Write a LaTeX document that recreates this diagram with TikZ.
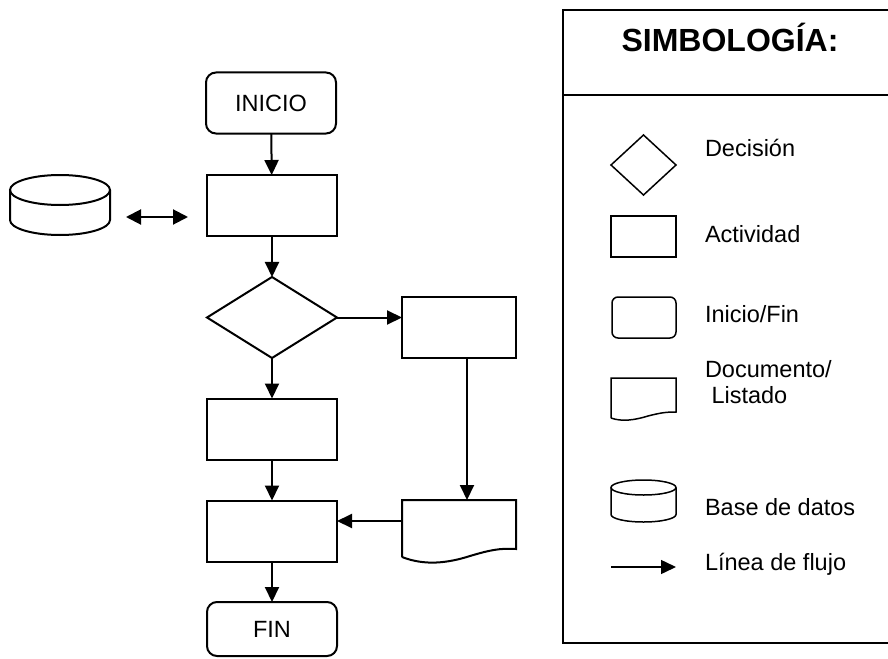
\documentclass[tikz,border=0pt]{standalone}
\usepackage{fontspec}
\setmainfont{Liberation Sans}
\usetikzlibrary{arrows.meta,shapes.geometric,calc}
\begin{document}
\begin{tikzpicture}[x=1pt,y=-1pt,
  every node/.style={font=\fontsize{23.5}{26}\selectfont, inner sep=0pt, outer sep=0pt},
  shp/.style={draw, line width=2pt, fill=white},
  boxn/.style={shp, rectangle, minimum width=130pt, minimum height=61pt},
  term/.style={boxn, rounded corners=10pt},
  ghost/.style={rectangle, draw=none},
  flow/.style={line width=2pt, -{Triangle[length=15pt,width=14pt]}},
  lgs/.style={draw, line width=1.5pt, fill=white},
  lbl/.style={anchor=base west},
]
\useasboundingbox (0,0) rectangle (888,658);

% ---------- main flow ----------
\node[term] (ini) at (271,103) {INICIO};
\node[boxn] (b1) at (272,205.5) {};
\node[shp, diamond, minimum width=130pt, minimum height=81pt] (dec) at (272,317.5) {};
\node[boxn, minimum width=114pt] (b2) at (459,327.5) {};
\node[boxn] (b3) at (272,429) {};
\node[boxn] (b4) at (272,531) {};
\node[term, minimum height=54pt] (fin) at (272,629) {FIN};

% database (cylinder)
\node[ghost, minimum width=100pt, minimum height=60pt] (db) at (60,205) {};
\draw[line width=2pt] (10,190) -- (10,220) arc[start angle=180, end angle=0, x radius=50, y radius=15]
  -- (110,190);
\draw[line width=2pt] (60,190) ellipse[x radius=50, y radius=15];

% document
\node[ghost, minimum width=114pt, minimum height=42pt] (doc) at (459,521) {};
\draw[line width=2pt, line join=miter] (402,557) -- (402,500) -- (516,500) -- (516,549)
  .. controls (500,548) and (490,550) .. (470,556)
  .. controls (448,563) and (425,566) .. (402,557);

% connectors
\draw[flow] (ini) -- (b1);
\draw[flow] (b1) -- (dec);
\draw[flow] (dec.east) -- (dec.east -| b2.west);
\draw[flow] (dec) -- (b3);
\draw[flow] (b3) -- (b4);
\draw[flow] (b4) -- (fin);
\draw[flow] ([xshift=8pt]b2.south) -- ([xshift=8pt]doc.north);
\draw[flow] (doc.west) -- (doc.west -| b4.east);
\coordinate (da1) at (126,217);
\coordinate (da2) at (188,217);
\draw[line width=2pt, {Triangle[length=15pt,width=15pt]}-{Triangle[length=15pt,width=15pt]}] (da1) -- (da2);

% ---------- legend ----------
\draw[line width=2pt, line join=miter] (889,643) -- (563,643) -- (563,95);
\draw[line width=2.6pt, line join=miter] (889,10) -- (563,10) -- (563,95) -- (889,95);
\node[anchor=base, font=\fontsize{32}{36}\selectfont\bfseries] (title) at (730,52) {SIMBOLOGÍA:};

\node[lgs, diamond, minimum width=65pt, minimum height=60pt] (ldec) at (643.5,165) {};
\node[lbl] (tdec) at (705,156) {Decisión};

\node[lgs, rectangle, minimum width=65pt, minimum height=41pt] (lact) at (643.5,236.5) {};
\node[lbl] (tact) at (705,242) {Actividad};

\node[lgs, rectangle, rounded corners=6pt, minimum width=64pt, minimum height=41pt] (lini) at (644,317.5) {};
\node[lbl] (tini) at (705,322) {Inicio/Fin};

\node[ghost, minimum width=65pt, minimum height=34pt] (ldoc) at (643.5,395) {};
\draw[line width=1.5pt, line join=miter] (611,418) -- (611,378) -- (676,378) -- (676,412)
  .. controls (665,412) and (660,413) .. (648,416)
  .. controls (635,420) and (622,422) .. (611,418);
\node[lbl] (tdoc1) at (705,377) {Documento/};
\node[lbl] (tdoc2) at (705,403) {\ Listado};

\node[ghost, minimum width=65pt, minimum height=42pt] (ldb) at (643.5,501) {};
\draw[line width=1.5pt] (611,487.5) -- (611,514.5) arc[start angle=180, end angle=0, x radius=32.5, y radius=7.5]
  -- (676,487.5);
\draw[line width=1.5pt] (643.5,487.5) ellipse[x radius=32.5, y radius=7.5];
\node[lbl] (tdb) at (705,515) {Base de datos};

\coordinate (la1) at (611,567);
\coordinate (la2) at (676,567);
\draw[line width=1.5pt, -{Triangle[length=15pt,width=14pt]}] (la1) -- (la2);
\node[lbl] (tfl) at (705,570) {Línea de flujo};
\end{tikzpicture}
\end{document}
